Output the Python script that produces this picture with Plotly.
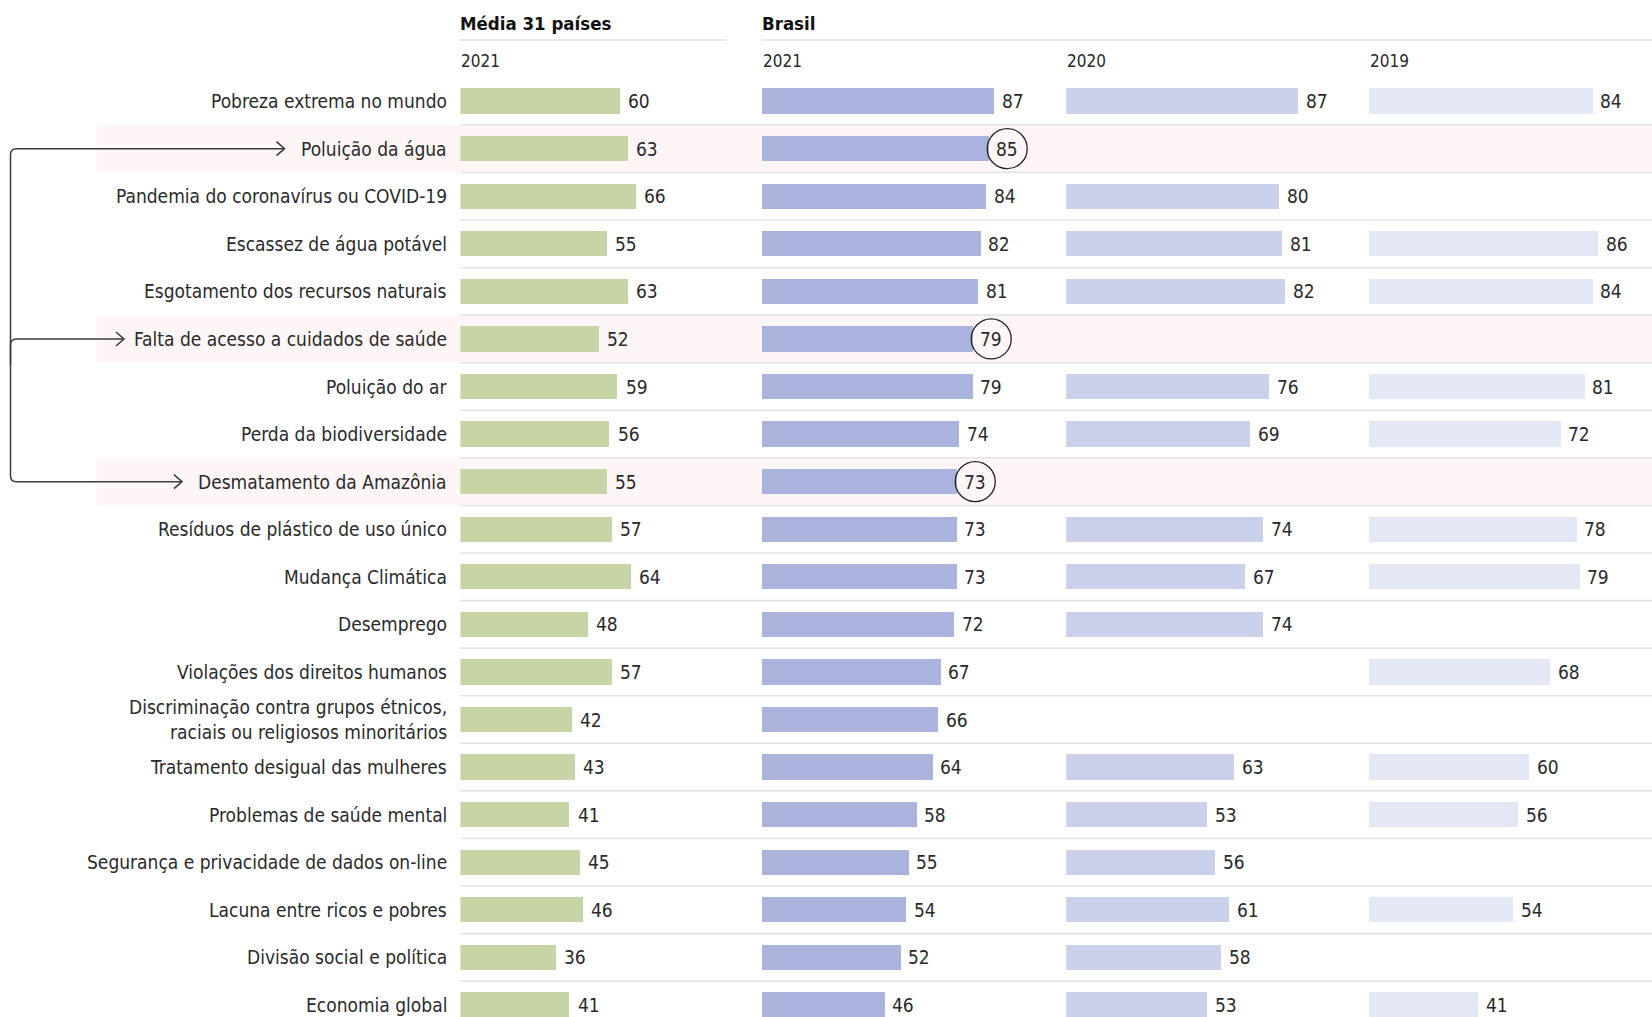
import plotly.graph_objects as go

# ---- data -------------------------------------------------------------
issues = [
    "Pobreza extrema no mundo",
    "Poluição da água",
    "Pandemia do coronavírus ou COVID-19",
    "Escassez de água potável",
    "Esgotamento dos recursos naturais",
    "Falta de acesso a cuidados de saúde",
    "Poluição do ar",
    "Perda da biodiversidade",
    "Desmatamento da Amazônia",
    "Resíduos de plástico de uso único",
    "Mudança Climática",
    "Desemprego",
    "Violações dos direitos humanos",
    "Discriminação contra grupos étnicos,<br>raciais ou religiosos minoritários",
    "Tratamento desigual das mulheres",
    "Problemas de saúde mental",
    "Segurança e privacidade de dados on-line",
    "Lacuna entre ricos e pobres",
    "Divisão social e política",
    "Economia global",
]
media_2021 = [60, 63, 66, 55, 63, 52, 59, 56, 55, 57, 64, 48, 57, 42, 43, 41, 45, 46, 36, 41]
brasil_2021 = [87, 85, 84, 82, 81, 79, 79, 74, 73, 73, 73, 72, 67, 66, 64, 58, 55, 54, 52, 46]
brasil_2020 = [87, None, 80, 81, 82, None, 76, 69, None, 74, 67, 74, None, None, 63, 53, 56, 61, 58, 53]
brasil_2019 = [84, None, None, 86, 84, None, 81, 72, None, 78, 79, None, 68, None, 60, 56, None, 54, None, 41]
highlighted = ["Poluição da água", "Falta de acesso a cuidados de saúde", "Desmatamento da Amazônia"]

group_titles = ["Média 31 países", "Brasil"]
year_labels = ["2021", "2021", "2020", "2019"]

# ---- layout constants (pixels) -----------------------------------------
W, H = 1652, 1017
PX_PER_UNIT = 2.665
ROW_PX = 47.57
ROW0_PX = 101.1
col_start = [460.4, 761.7, 1066.2, 1368.6]
col_end = [760.0, 1066.0, 1368.0, 1652.0]
colors = ["#c7d5a6", "#aab3dc", "#cbd0ea", "#e4e7f5"]
FONT = "DejaVu Sans Condensed, DejaVu Sans, sans-serif"
TXT = "#2a2a2a"
LABEL_SIZE = 19
VALUE_SIZE = 19


def px(x):
    return x / W


def py(y):
    return 1 - y / H


rows = list(range(len(issues)))
series = [media_2021, brasil_2021, brasil_2020, brasil_2019]
axis_ids = ["x", "x2", "x3", "x4"]

fig = go.Figure()

for k, (vals, ax) in enumerate(zip(series, axis_ids)):
    fig.add_trace(go.Bar(
        x=vals, y=rows, orientation="h",
        marker=dict(color=colors[k], line=dict(width=0)),
        width=0.53, xaxis=ax, yaxis="y",
        hoverinfo="skip", showlegend=False,
    ))

layout = dict(
    width=W, height=H,
    margin=dict(l=0, r=0, t=0, b=0),
    paper_bgcolor="white", plot_bgcolor="rgba(0,0,0,0)",
    showlegend=False, bargap=0,
    font=dict(family=FONT, color=TXT),
    yaxis=dict(domain=[0, 1], range=[(H - ROW0_PX) / ROW_PX, -ROW0_PX / ROW_PX],
               visible=False, anchor="x", fixedrange=True),
)
for k, ax in enumerate(axis_ids):
    name = "xaxis" if ax == "x" else "xaxis" + ax[1:]
    span = col_end[k] - col_start[k]
    layout[name] = dict(domain=[px(col_start[k]), px(col_end[k])],
                        range=[0, span / PX_PER_UNIT], visible=False,
                        anchor="y", fixedrange=True)
fig.update_layout(**layout)

shapes = []
annotations = []

# highlighted row bands
for name in highlighted:
    r = issues.index(name)
    shapes.append(dict(type="rect", xref="paper", yref="y", x0=px(97), x1=1,
                       y0=r - 0.5, y1=r + 0.5, fillcolor="#fef6f6",
                       line=dict(width=0), layer="below"))

# row separators
for r in rows[:-1]:
    shapes.append(dict(type="line", xref="paper", yref="y", x0=px(460.4), x1=1,
                       y0=r + 0.5, y1=r + 0.5, line=dict(color="#e4e4e4", width=1.6),
                       layer="below"))

# header rules
shapes.append(dict(type="line", xref="paper", yref="paper", x0=px(460.4), x1=px(727),
                   y0=py(40), y1=py(40), line=dict(color="#e0e0e0", width=1.4)))
shapes.append(dict(type="line", xref="paper", yref="paper", x0=px(761.7), x1=1,
                   y0=py(40), y1=py(40), line=dict(color="#e0e0e0", width=1.4)))

# group titles and year labels
for title, x0 in zip(group_titles, [col_start[0], col_start[1]]):
    annotations.append(dict(text="<b>" + title + "</b>", xref="paper", yref="paper",
                            x=px(x0 - 2), y=py(23), xanchor="left", yanchor="middle",
                            showarrow=False, font=dict(size=18.5, color="#111111")))
for lab, x0 in zip(year_labels, col_start):
    annotations.append(dict(text=lab, xref="paper", yref="paper",
                            x=px(x0 - 1), y=py(61), xanchor="left", yanchor="middle",
                            showarrow=False, font=dict(size=17, color=TXT)))

# row labels
for r, name in enumerate(issues):
    annotations.append(dict(text=name, xref="paper", yref="y", x=px(449), y=r,
                            xanchor="right", yanchor="middle", align="right",
                            showarrow=False, font=dict(size=LABEL_SIZE, color=TXT)))

# value labels (circled for the highlighted Brazilian values)
for k, (vals, ax) in enumerate(zip(series, axis_ids)):
    for r, v in enumerate(vals):
        if v is None:
            continue
        circled = (k == 1 and issues[r] in highlighted)
        if circled:
            shapes.append(dict(type="circle", xref=ax, yref="y",
                               xsizemode="pixel", ysizemode="pixel",
                               xanchor=v, yanchor=r, x0=-1, x1=39, y0=-20, y1=20,
                               line=dict(color="#222222", width=1.3)))
            annotations.append(dict(text=str(v), xref=ax, yref="y", x=v, y=r,
                                    xanchor="center", yanchor="middle", xshift=19,
                                    showarrow=False, font=dict(size=VALUE_SIZE, color=TXT)))
        else:
            annotations.append(dict(text=str(v), xref=ax, yref="y", x=v, y=r,
                                    xanchor="left", yanchor="middle", xshift=6,
                                    showarrow=False, font=dict(size=VALUE_SIZE, color=TXT)))

# bracket linking the three highlighted rows
r_top, r_mid, r_bot = (issues.index(n) for n in highlighted)
LX = 10.5
tips = {r_top: 284.5, r_mid: 124.0, r_bot: 182.0}
cy = 6.0 / ROW_PX   # corner radius in row units
cx = 6.0
line_style = dict(color="#3a3a3a", width=1.5)
path_main = (f"M {px(tips[r_top])},{r_top} L {px(LX + cx)},{r_top} "
             f"Q {px(LX)},{r_top} {px(LX)},{r_top + cy} "
             f"L {px(LX)},{r_bot - cy} Q {px(LX)},{r_bot} {px(LX + cx)},{r_bot} "
             f"L {px(tips[r_bot])},{r_bot}")
shapes.append(dict(type="path", xref="paper", yref="y", path=path_main, line=line_style))
path_mid = (f"M {px(LX)},{r_mid + 0.55} L {px(LX)},{r_mid + cy} "
            f"Q {px(LX)},{r_mid} {px(LX + cx)},{r_mid} L {px(tips[r_mid])},{r_mid}")
shapes.append(dict(type="path", xref="paper", yref="y", path=path_mid, line=line_style))
ah_x, ah_y = 8.0, 7.0 / ROW_PX
for r, tip in tips.items():
    shapes.append(dict(type="path", xref="paper", yref="y",
                       path=f"M {px(tip - ah_x)},{r - ah_y} L {px(tip)},{r} L {px(tip - ah_x)},{r + ah_y}",
                       line=line_style))

fig.update_layout(shapes=shapes, annotations=annotations)
fig.write_html("out.html")
